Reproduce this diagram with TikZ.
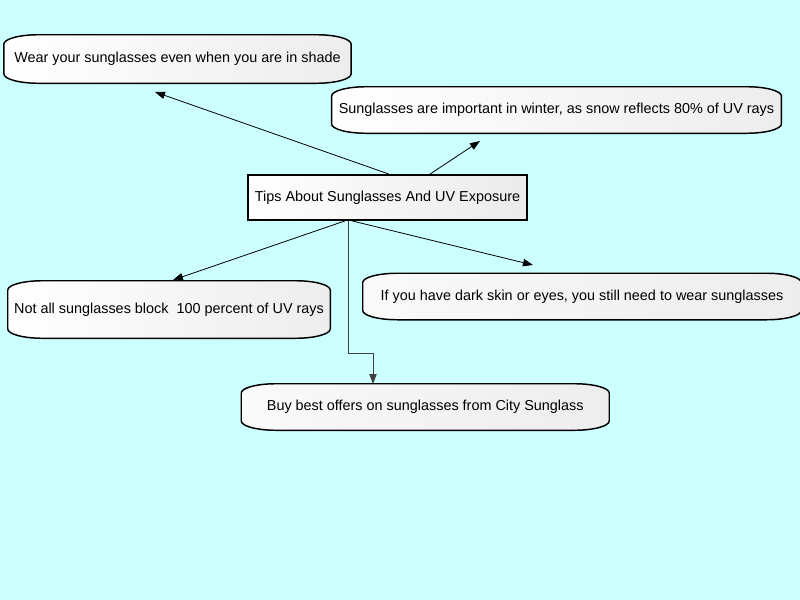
\documentclass[tikz,border=0pt]{standalone}
\usepackage{fontspec}
\setmainfont{Liberation Sans}
\usetikzlibrary{arrows.meta,backgrounds,calc}
\definecolor{bgcyan}{RGB}{204,255,255}
\newcommand\tapeoutline[2][]{%
  \path[tapefill,#1] ([yshift=-7pt]#2.north west)
    arc[start angle=180,end angle=90,x radius=26pt,y radius=7pt]
    -- ([xshift=-26pt]#2.north east)
    arc[start angle=90,end angle=0,x radius=26pt,y radius=7pt]
    -- ([yshift=7pt]#2.south east)
    arc[start angle=0,end angle=-90,x radius=26pt,y radius=7pt]
    -- ([xshift=26pt]#2.south west)
    arc[start angle=270,end angle=180,x radius=26pt,y radius=7pt]
    -- cycle;}
\begin{document}
\begin{tikzpicture}[x=0.75pt,y=-0.75pt,
  lbl/.style={inner sep=0pt, font=\fontsize{10.8}{13}\selectfont},
  tapefill/.style={draw=black, line width=1.1pt, left color=white, right color=black!7},
  conn/.style={draw=black, line width=0.6pt, -{Triangle[length=7.5pt,width=5.5pt]}}]
\useasboundingbox (0,0) rectangle (800,600);

\node[lbl, minimum width=260pt, minimum height=36pt] (wear) at (177.5,59) {Wear your sunglasses even when you are in shade};
\node[lbl, minimum width=337pt, minimum height=34.5pt] (winter) at (556.5,110) {Sunglasses are important in winter, as snow reflects 80\% of UV rays};
\node[lbl, draw, line width=1.1pt, left color=white, right color=black!8, minimum width=209pt, minimum height=34pt] (tips) at (387.5,197.5) {Tips About Sunglasses And UV Exposure};
\node[lbl, minimum width=241.5pt, minimum height=42.75pt] (notall) at (169,309.5) {Not all sunglasses block\ \ 100 percent of UV rays};
\node[lbl, minimum width=328.5pt, minimum height=34.5pt] (dark) at (582,296.5) {If you have dark skin or eyes, you still need to wear sunglasses};
\node[lbl, minimum width=275.6pt, minimum height=34.5pt] (buy) at (425.25,407) {Buy best offers on sunglasses from City Sunglass};

\begin{scope}[on background layer]
\fill[bgcyan] (0,0) rectangle (800,600);
\tapeoutline{wear}
\tapeoutline{winter}
\tapeoutline{notall}
\tapeoutline[left color=black!2, right color=black!7]{dark}
\tapeoutline[left color=black!2, right color=black!7]{buy}
\end{scope}

\coordinate (e1) at (155,92);
\coordinate (e2) at (480,141);
\coordinate (e3) at (173,280);
\coordinate (e4) at (533,265);
\coordinate (k1) at (348,353);
\coordinate (k2) at (373,353);
\coordinate (e5) at (373,384);
\draw[conn] ($(tips.north)+(1.5,0)$) -- (e1);
\draw[conn] ($(tips.north)+(42.5,0)$) -- (e2);
\draw[conn] ($(tips.south)+(-42.5,0)$) -- (e3);
\draw[conn] ($(tips.south)+(-35.5,0)$) -- (e4);
\draw[conn, draw=black!75] ($(tips.south)+(-39.5,0)$) -- (k1) -- (k2) -- (e5);
\end{tikzpicture}
\end{document}
